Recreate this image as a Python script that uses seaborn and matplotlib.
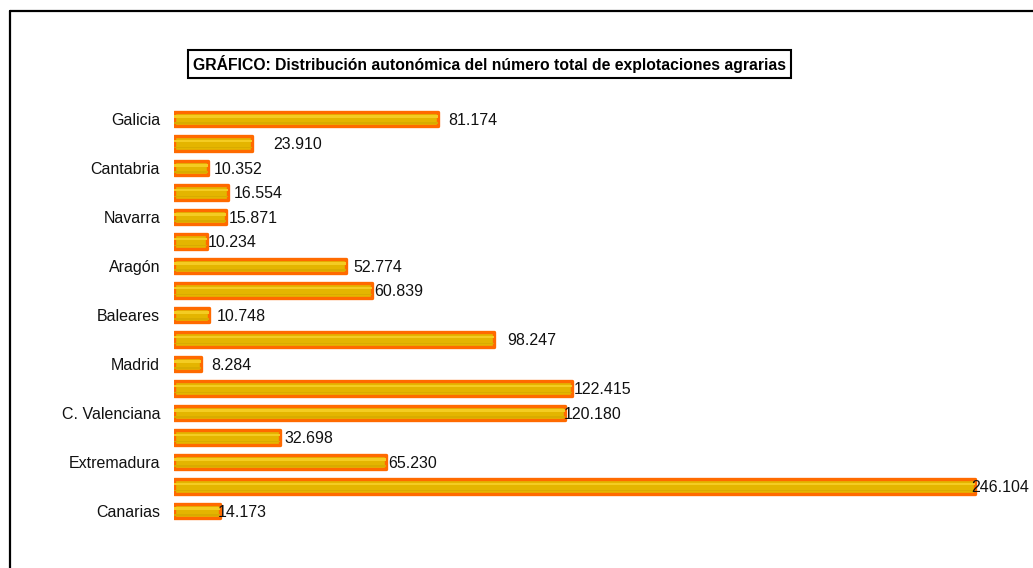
import matplotlib
matplotlib.use("Agg")
import matplotlib.pyplot as plt
from matplotlib.lines import Line2D
import seaborn as sns
import pandas as pd
import numpy as np

# ---- data ----
regions = ["Galicia", "Asturias", "Cantabria", "País Vasco", "Navarra", "La Rioja",
           "Aragón", "Cataluña", "Baleares", "Castilla y León", "Madrid",
           "Castilla-La Mancha", "C. Valenciana", "Murcia", "Extremadura",
           "Andalucía", "Canarias"]
explotaciones = [81174, 23910, 10352, 16554, 15871, 10234, 52774, 60839, 10748,
                 98247, 8284, 122415, 120180, 32698, 65230, 246104, 14173]
shown_labels = ["Galicia", "Cantabria", "Navarra", "Aragón", "Baleares", "Madrid",
                "C. Valenciana", "Extremadura", "Canarias"]
title = "GRÁFICO: Distribución autonómica del número total de explotaciones agrarias"

# label offsets (pixels) relative to bar end, as placed in the original
label_dx = [9, 20, 5, 4, 2, -1, 6, 1, 6, 12, 9, 0, -3, 3, 1, -5, -4]

df = pd.DataFrame({"region": regions, "valor": explotaciones})

sns.set_theme(style="white")
plt.rcParams["font.family"] = ["Liberation Sans", "DejaVu Sans"]

W, H = 1033, 568
fig = plt.figure(figsize=(W / 100, H / 100), dpi=100)
fig.patch.set_facecolor("white")

ax_left, ax_right = 174, 1020
ax_top, ax_bot = 106.75, 523.25
ax = fig.add_axes([ax_left / W, 1 - ax_bot / H, (ax_right - ax_left) / W, (ax_bot - ax_top) / H])

sns.barplot(data=df, x="valor", y="region", orient="h", order=regions,
            color="#E4B500", saturation=1, edgecolor="#FF6A00", linewidth=2.4,
            width=0.58, ax=ax)
for p in ax.patches:
    p.set_joinstyle("round")

# cylinder highlight / shade
pos = np.arange(len(regions))
ax.barh(pos - 0.1, explotaciones, height=0.1, color="#F4CC22", linewidth=0, zorder=3)
ax.barh(pos + 0.16, explotaciones, height=0.07, color="#D8AB00", linewidth=0, zorder=3)

ax.set_xlim(0, 260000)
ax.set_ylim(16.5, -0.5)
for s in ax.spines.values():
    s.set_visible(False)
ax.set_xticks([])
ax.set_xlabel("")
ax.set_ylabel("")
ax.set_yticks([regions.index(r) for r in shown_labels])
ax.set_yticklabels(shown_labels, fontsize=11.5, color="#111111")
ax.tick_params(axis="y", length=0, pad=10)

for i, (v, dx) in enumerate(zip(explotaciones, label_dx)):
    txt = f"{v:,}".replace(",", ".")
    ax.annotate(txt, xy=(v, i), xytext=(dx * 0.72 + 1, -1), textcoords="offset points",
                ha="left", va="center", fontsize=11.5, color="#111111", zorder=5)

# title box
fig.text(489.5 / W, 1 - 64 / H, title, ha="center", va="center", fontsize=11.3,
         fontweight="bold", color="black",
         bbox=dict(boxstyle="square,pad=0.33", facecolor="white", edgecolor="black", linewidth=1.5))

# outer border (top and left visible)
fig.add_artist(Line2D([9.5 / W, 1.0], [1 - 10.5 / H, 1 - 10.5 / H], color="black", linewidth=1.6,
                      transform=fig.transFigure))
fig.add_artist(Line2D([9.5 / W, 9.5 / W], [0.0, 1 - 10.5 / H], color="black", linewidth=1.6,
                      transform=fig.transFigure))

fig.savefig("out.png", dpi=100)
